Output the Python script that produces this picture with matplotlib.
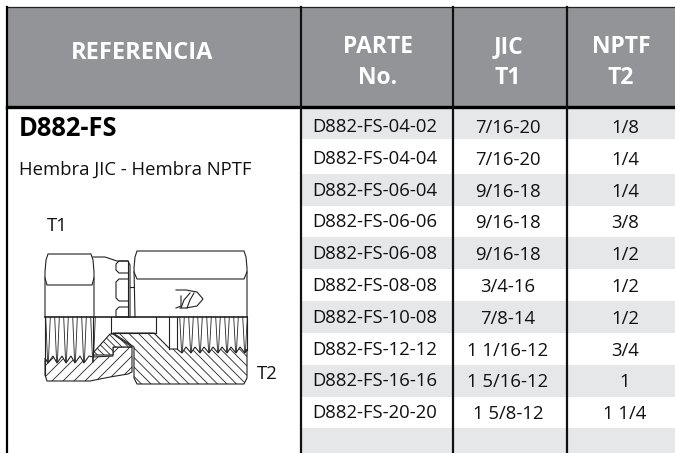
import matplotlib
matplotlib.use('Agg')
import matplotlib.pyplot as plt
import numpy as np
from matplotlib.patches import Polygon, Rectangle

plt.rcParams['font.family'] = ['Open Sans', 'DejaVu Sans']

# table content
headers = ['REFERENCIA', 'PARTE\nNo.', 'JIC\nT1', 'NPTF\nT2']
parts = ['D882-FS-04-02', 'D882-FS-04-04', 'D882-FS-06-04', 'D882-FS-06-06', 'D882-FS-06-08',
         'D882-FS-08-08', 'D882-FS-10-08', 'D882-FS-12-12', 'D882-FS-16-16', 'D882-FS-20-20', '']
jic = ['7/16-20', '7/16-20', '9/16-18', '9/16-18', '9/16-18', '3/4-16', '7/8-14',
       '1 1/16-12', '1 5/16-12', '1 5/8-12', '']
nptf = ['1/8', '1/4', '1/4', '3/8', '1/2', '1/2', '1/2', '3/4', '1', '1 1/4', '']

# layout in pixels
col_x = [7, 301, 452.5, 567, 675]
head_x = [142.5, 378, 508, 621]
row_y = [108, 139, 174, 206, 237, 269, 301, 333, 365, 397, 428, 453]
head_gray = '#929497'
row_gray = '#e6e7e8'
fs = 13.3

fig = plt.figure(figsize=(6.75, 4.53), dpi=100)
ax = fig.add_axes([0, 0, 1, 1])
ax.set_xlim(0, 675)
ax.set_ylim(453, 0)
ax.axis('off')

# header
ax.add_patch(Rectangle((7, 7), 668, 99, fc=head_gray, ec='none'))
ax.plot([7, 675], [7, 7], color='#222222', lw=0.9)
for i, h in enumerate(headers):
    ax.text(head_x[i], 53 if i == 0 else 62.5, h, color='white', fontweight='bold',
            fontsize=17 if i == 0 else 16.5, ha='center', va='center', linespacing=1.42)

# rows
for i in range(len(parts)):
    if i % 2 == 0:
        ax.add_patch(Rectangle((col_x[1], row_y[i]), 675 - col_x[1], row_y[i + 1] - row_y[i], fc=row_gray, ec='none'))
    yc = 127 + i * 31.8
    ax.text(374.5, yc, parts[i], fontsize=fs, ha='center', va='center', color='#111111')
    ax.text(508, yc + 1, jic[i], fontsize=fs, ha='center', va='center', color='#111111')
    ax.text(625, yc + 1, nptf[i], fontsize=fs, ha='center', va='center', color='#111111')

# grid lines
ax.plot([7, 7], [7, 453], color='black', lw=1.6)
ax.plot([7, 675], [106.5, 106.5], color='black', lw=2.4)
for x in col_x[1:4]:
    ax.plot([x, x], [7, 453], color='#111111', lw=1.6)

# left panel text
ax.text(19, 129, 'D882-FS', fontsize=18.4, fontweight='bold', ha='left', va='center', color='black')
ax.text(19, 170, 'Hembra JIC - Hembra NPTF', fontsize=fs, ha='left', va='center', color='#111111')
ax.text(47, 226, 'T1', fontsize=fs, ha='left', va='center', color='#111111')
ax.text(257, 374, 'T2', fontsize=fs, ha='left', va='center', color='#111111')

# fitting drawing
lw = 0.8


def line(xs, ys, w=lw):
    ax.plot(xs, ys, color='#222222', lw=w, solid_joinstyle='round')


def hatched(pts, step, up):
    poly = Polygon(pts, closed=True, fc='white', ec='#222222', lw=lw)
    ax.add_patch(poly)
    for c in np.arange(-600, 900, step):
        if up:
            ln, = ax.plot([c, c + 200], [384, 184], color='#222222', lw=0.6)
        else:
            ln, = ax.plot([c, c + 200], [184, 384], color='#222222', lw=0.6)
        ln.set_clip_path(poly)


# left nut, top half
line([45, 45, 46, 48, 91, 93, 94, 94], [317, 272, 260, 254, 254, 260, 272, 317])
line([45, 47, 92, 94], [278, 285, 285, 278])
# collar
line([93, 105, 117, 128, 130, 130], [257, 257, 261, 261, 265, 317])
line([128, 128], [261, 317])
for y0, y1 in [(261, 273), (279, 301), (307, 317)]:
    line([128, 119, 116, 116, 119, 128], [y0, y0, y0 + 3, y1 - 3, y1, y1] if y1 < 317 else [y0, y0, y0 + 3, y1, y1, y1])
line([130, 134], [287, 287])
# right nut, top half
line([135, 134, 135, 137, 244, 246, 247, 247], [317, 268, 257, 251, 251, 257, 268, 317])
line([134, 137, 244, 247], [272, 279, 279, 272])
# centre line
line([45, 247], [317, 317], 1.2)

# logo
line([176, 186, 197, 203, 197, 186, 180], [290, 290, 292, 299, 306, 308, 308])
line([190, 184, 181], [293, 300, 308])
line([194, 190, 187], [293, 300, 308])
line([176, 181, 181], [308, 306, 296])

# hatched sections, lower half
teeth_r_x = [177, 182, 186, 191, 195, 200, 204, 209, 213, 218, 222, 227, 231, 236, 240, 245, 247]
teeth_r_y = [349, 353, 347, 353, 347, 353, 347, 353, 347, 353, 347, 353, 347, 353, 347, 353, 349]
teeth_l_x = [45, 48, 53, 57, 62, 66, 71, 75, 80, 84, 89, 93]
teeth_l_y = [358, 363, 356, 363, 356, 363, 356, 363, 356, 363, 356, 357]

right_body = [(113, 333), (154, 333), (170, 349)] + list(zip(teeth_r_x, teeth_r_y)) + \
    [(247, 378), (244, 384), (137, 384), (134, 378), (134, 347)]
hatched(right_body, 9.5, False)
left_body = list(zip(teeth_l_x, teeth_l_y)) + [(113, 356), (113, 347), (132, 347), (132, 372), (128, 374),
                                               (110, 377), (90, 381), (47, 381), (45, 375)]
hatched(left_body, 11, True)
seat = [(93, 353), (110, 334), (113, 334), (132, 347), (113, 347), (113, 355), (93, 355)]
hatched(seat, 6.5, False)

# threads, V pairs ending at each root
for x in teeth_l_x[1::2]:
    line([x - 2.3, x - 0.4], [317, 362], 0.6)
    line([x + 2.3, x + 0.4], [317, 362], 0.6)
for x in teeth_r_x[1:-1:2]:
    line([x - 2.3, x - 0.4], [317, 352], 0.6)
    line([x + 2.3, x + 0.4], [317, 352], 0.6)
line([45, 45], [317, 375])
line([93, 93], [317, 356])
line([247, 247], [317, 350])
line([111, 111], [317, 333])
line([156, 156], [317, 333])
line([169, 169], [317, 349])
line([177, 177], [317, 349])
line([111, 156], [333, 333])

fig.savefig('out.png', dpi=100)
